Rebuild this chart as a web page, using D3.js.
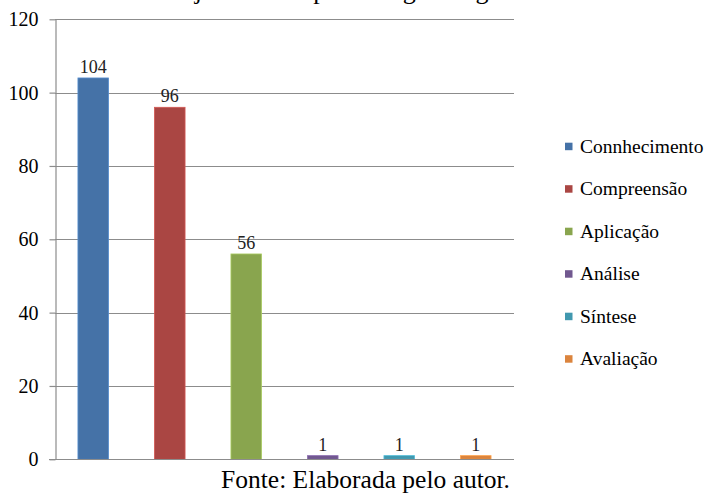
<!DOCTYPE html>
<html>
<head>
<meta charset="utf-8">
<script src="https://cdn.jsdelivr.net/npm/d3@7"></script>
<style>
  html, body { margin: 0; padding: 0; background: #fff; }
  svg { display: block; }
</style>
</head>
<body>
<svg id="chart" width="707" height="496"></svg>
<script>
// Número de objetivos por categoria da taxonomia de Bloom
const categories = ["Connhecimento", "Compreensão", "Aplicação", "Análise", "Síntese", "Avaliação"];
const counts = [104, 96, 56, 1, 1, 1];
const colors = ["#4572A7", "#AA4643", "#89A54E", "#71588F", "#4198AF", "#DB843D"];
const yTicks = [0, 20, 40, 60, 80, 100, 120];
const titleText = "Objetivos de aprendizagem segundo Bloom";
const sourceText = "Fonte: Elaborada pelo autor.";

const FONT = "Liberation Serif";
const svg = d3.select("#chart");
const root = svg.append("g").attr("font-family", FONT);
const plot = { left: 55, right: 514, top: 19.3, bottom: 459.3 };

const x = d3.scaleBand()
  .domain(categories)
  .range([plot.left, plot.right])
  .paddingInner(0.6)
  .paddingOuter(0.3);

const y = d3.scaleLinear()
  .domain([0, 120])
  .range([plot.bottom, plot.top]);

// Title (runs off the top edge of the frame)
root.append("text")
  .attr("x", 163)
  .attr("y", -1)
  .attr("font-family", FONT)
  .attr("font-size", 26)
  .attr("fill", "#000")
  .text(titleText);

// Horizontal gridlines
root.append("g")
  .selectAll("line")
  .data(yTicks.filter(d => d > 0))
  .join("line")
  .attr("x1", plot.left)
  .attr("x2", plot.right)
  .attr("y1", d => Math.round(y(d)) + 0.5)
  .attr("y2", d => Math.round(y(d)) + 0.5)
  .attr("stroke", "#8c8c8c")
  .attr("stroke-width", 1.2);

// Y axis
const yAxis = root.append("g")
  .attr("transform", `translate(${plot.left + 0.5},0)`)
  .call(d3.axisLeft(y).tickValues(yTicks).tickSize(6).tickPadding(11).tickSizeOuter(0));
yAxis.attr("font-family", FONT);
yAxis.select(".domain").attr("stroke", "#8c8c8c").attr("stroke-width", 1.2);
yAxis.selectAll(".tick line").attr("stroke", "#8c8c8c").attr("stroke-width", 1.2);
yAxis.selectAll(".tick text")
  .attr("font-family", FONT)
  .attr("font-size", 20)
  .attr("fill", "#000");

// Bars
root.append("g")
  .selectAll("rect")
  .data(categories)
  .join("rect")
  .attr("x", d => x(d))
  .attr("width", x.bandwidth())
  .attr("y", (d, i) => y(counts[i]))
  .attr("height", (d, i) => y(0) - y(counts[i]))
  .attr("fill", (d, i) => colors[i])
  .attr("stroke", (d, i) => d3.color(colors[i]).brighter(0.6))
  .attr("stroke-width", 0.8);

// Baseline on top of bars
root.append("line")
  .attr("x1", plot.left - 6)
  .attr("x2", plot.right)
  .attr("y1", Math.round(y(0)) + 0.5)
  .attr("y2", Math.round(y(0)) + 0.5)
  .attr("stroke", "#8c8c8c")
  .attr("stroke-width", 1.2);

// Value labels
root.append("g")
  .selectAll("text")
  .data(categories)
  .join("text")
  .attr("x", d => x(d) + x.bandwidth() / 2)
  .attr("y", (d, i) => y(counts[i]) - 5)
  .attr("text-anchor", "middle")
  .attr("font-family", FONT)
  .attr("font-size", 18)
  .attr("fill", "#222")
  .text((d, i) => counts[i]);

// Legend
const legend = root.append("g")
  .selectAll("g")
  .data(categories)
  .join("g")
  .attr("transform", (d, i) => `translate(565,${146.7 + i * 42.5})`);
legend.append("rect")
  .attr("x", 0)
  .attr("y", -4)
  .attr("width", 7.5)
  .attr("height", 7.5)
  .attr("fill", (d, i) => colors[i]);
legend.append("text")
  .attr("x", 15)
  .attr("y", 6)
  .attr("font-family", FONT)
  .attr("font-size", 19.5)
  .attr("fill", "#000")
  .text(d => d);

// Source note
root.append("text")
  .attr("x", 510)
  .attr("y", 488)
  .attr("text-anchor", "end")
  .attr("font-family", FONT)
  .attr("font-size", 25.5)
  .attr("fill", "#000")
  .text(sourceText);
</script>
</body>
</html>
